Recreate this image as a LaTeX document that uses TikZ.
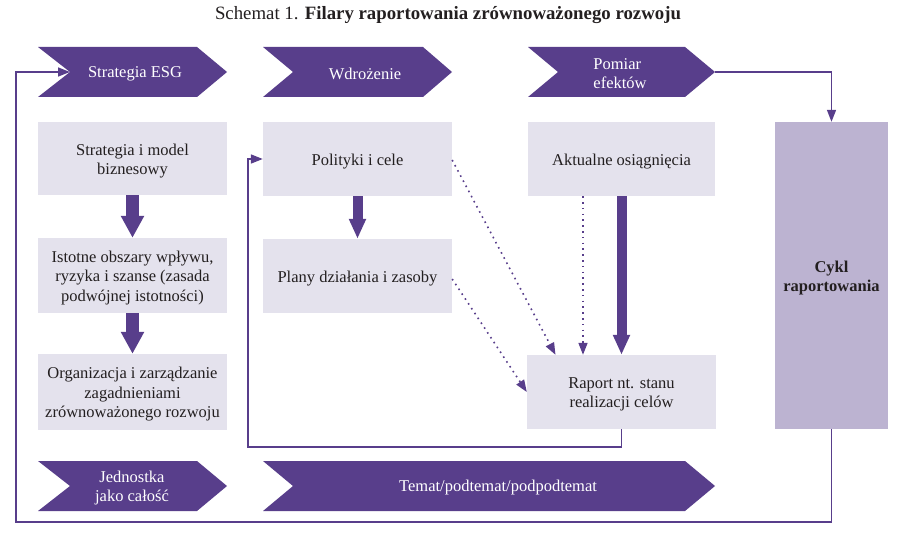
\documentclass[tikz,border=0pt]{standalone}
\usepackage{fontspec}
\setmainfont{Liberation Serif}
\usetikzlibrary{arrows.meta}
\definecolor{purp}{HTML}{583E8B}
\definecolor{boxg}{HTML}{E4E2ED}
\definecolor{cyk}{HTML}{BCB3D1}
\definecolor{txt}{HTML}{231F20}
\begin{document}
\begin{tikzpicture}[x=1pt,y=-1pt,
  chev/.style={fill=purp},
  chevtxt/.style={text=white,align=center,font=\fontsize{16.5}{19}\selectfont,inner sep=0pt,yshift=-2pt},
  gbox/.style={fill=boxg,minimum width=189pt,minimum height=74pt,inner sep=0pt},
  btxt/.style={align=center,font=\fontsize{16.5}{19.5}\selectfont,text=txt,inner sep=0pt,yshift=-2.5pt},
  bigarrow/.style={draw=purp,line width=10pt,-{Triangle[width=16pt,length=20pt]}},
  bigarrowA/.style={draw=purp,line width=13pt,-{Triangle[width=22pt,length=22pt]}},
  thinarrow/.style={draw=purp,line width=1.6pt,-{Triangle[width=9pt,length=12pt]}},
  dotarrow/.style={draw=purp,line width=1.6pt,dash pattern=on 1.6pt off 4.2pt,-{Triangle[width=9pt,length=12pt]}},
]
\useasboundingbox (0,0) rectangle (900,543);
\node[font=\fontsize{18.8}{22}\selectfont,text=txt,inner sep=0pt] (title) at (448,15) {Schemat 1. \textbf{Filary raportowania zrównoważonego rozwoju}};

% chevrons
\fill[chev] (38,47) -- (197,47) -- (227,72) -- (197,97) -- (38,97) -- (70,72) -- cycle;
\fill[chev] (263,47) -- (423,47) -- (452,72) -- (423,97) -- (263,97) -- (293,72) -- cycle;
\fill[chev] (528,47) -- (685,47) -- (715,72) -- (685,97) -- (528,97) -- (558,72) -- cycle;
\fill[chev] (38,461) -- (197,461) -- (227,486) -- (197,511) -- (38,511) -- (70,486) -- cycle;
\fill[chev] (263,461) -- (685,461) -- (715,486) -- (685,511) -- (263,511) -- (293,486) -- cycle;
\coordinate (notch1) at (70,72);
\coordinate (tip3) at (715,72);
\node[chevtxt] (t1) at (135,72) {Strategia ESG};
\node[chevtxt] (t2) at (365,72) {Wdrożenie};
\node[chevtxt,align=left] (t3) at (620,72) {Pomiar\\efektów};
\node[chevtxt] (t4) at (132,486) {Jednostka\\jako całość};
\node[chevtxt] (t5) at (498,486) {Temat/podtemat/podpodtemat};

% boxes
\node[gbox,minimum height=73pt] (b1) at (132.5,158.5) {};
\node[gbox,minimum height=75pt] (b2) at (132.5,275.5) {};
\node[gbox,minimum height=76pt] (b3) at (132.5,392) {};
\node[gbox] (p1) at (357.5,159) {};
\node[gbox] (p2) at (357.5,276) {};
\node[gbox,minimum width=187pt] (a1) at (621.5,159) {};
\node[gbox] (r1) at (621.5,392) {};
\node[gbox,fill=cyk,minimum width=113pt,minimum height=307pt] (cyk) at (831.5,275.5) {};

\node[btxt] (b1t) at (b1) {Strategia i model\\biznesowy};
\node[btxt] (b2t) at (b2) {Istotne obszary wpływu,\\ryzyka i szanse (zasada\\podwójnej istotności)};
\node[btxt] (b3t) at (b3) {Organizacja i zarządzanie\\zagadnieniami\\zrównoważonego rozwoju};
\node[btxt] (p1t) at (p1) {Polityki i cele};
\node[btxt] (p2t) at (p2) {Plany działania i zasoby};
\node[btxt] (a1t) at (a1) {Aktualne osiągnięcia};
\node[btxt] (r1t) at (r1) {Raport nt. stanu\\realizacji celów};
\node[btxt,font=\fontsize{16.5}{19.5}\selectfont\bfseries] (cykt) at (cyk) {Cykl\\raportowania};

% thick arrows
\draw[bigarrowA] (b1.south) -- (b2.north);
\draw[bigarrowA] (b2.south) -- (b3.north);
\draw[bigarrow] (p1.south) -- (p2.north);
\draw[bigarrow] (a1.south) -- (r1.north);

% dotted arrows
\draw[dotarrow] ([xshift=-38.5pt]a1.south) -- ([xshift=-38.5pt]r1.north);
\draw[dotarrow] ([yshift=-1pt]p1.east) -- ([xshift=-66pt]r1.north);
\draw[dotarrow] ([yshift=-3pt]p2.east) -- (r1.west);

% feedback loops
\coordinate (lp1) at (248,447);
\coordinate (lp2) at (16,522);
\draw[thinarrow] (r1.south) |- (lp1) |- (p1.west);
\draw[thinarrow] (cyk.south) |- (lp2) |- (notch1);
\draw[thinarrow] (tip3) -| (cyk.north);
\end{tikzpicture}
\end{document}
